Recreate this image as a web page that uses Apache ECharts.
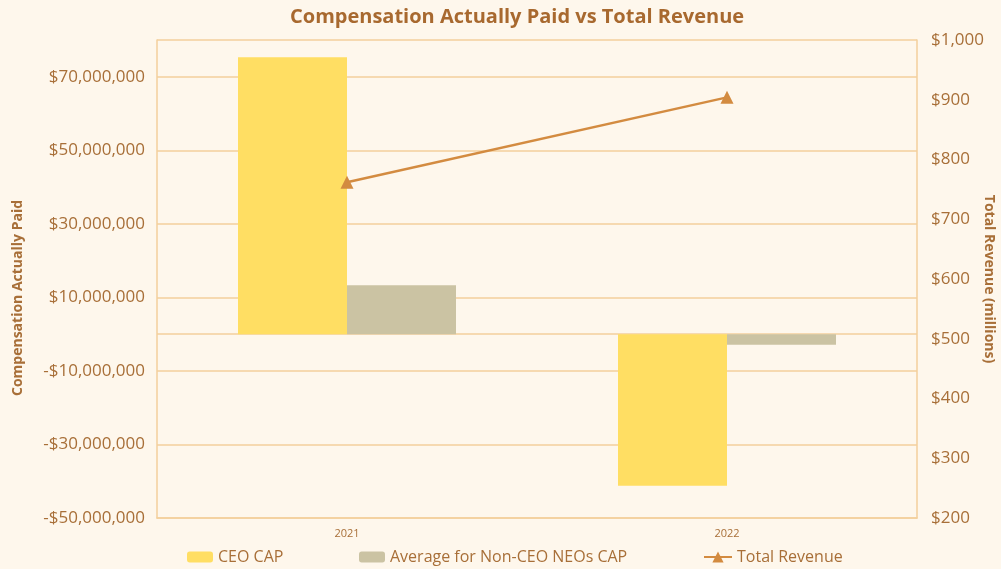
<!DOCTYPE html>
<html>
<head>
<meta charset="utf-8">
<script src="https://cdn.jsdelivr.net/npm/echarts@6/dist/echarts.min.js"></script>
<style>
  html, body { margin: 0; padding: 0; background: #fef7ec; }
  #chart { width: 1001px; height: 569px; }
</style>
</head>
<body>
<div id="chart"></div>
<script>
// data
var years = ['2021', '2022'];
var ceoCap = [75300000, -41200000];
var neoCap = [13300000, -2900000];
var revenue = [762, 904];
// left axis labels shown (others hidden)
var leftLabels = [-50000000, -30000000, -10000000, 10000000, 30000000, 50000000, 70000000];

var TXT = '#a86f38';
var GRID = '#f3cf9c';
var FONT = 'Open Sans';

function money(v) {
  var s = Math.abs(v).toLocaleString('en-US');
  return (v < 0 ? '-$' : '$') + s;
}

// gridlines only at labelled ticks, zero line and borders
var gridColors = [];
for (var v = -50000000; v <= 80000000; v += 10000000) {
  var show = leftLabels.indexOf(v) >= 0 || v === 0 || v === 80000000;
  gridColors.push(show ? GRID : 'rgba(0,0,0,0)');
}

var chart = echarts.init(document.getElementById('chart'));
chart.setOption({
  backgroundColor: '#fef7ec',
  textStyle: { fontFamily: FONT },
  title: {
    text: 'Compensation Actually Paid vs Total Revenue',
    left: 285,
    top: 2,
    textStyle: { color: '#a8692f', fontSize: 20, fontWeight: 'bold', fontFamily: FONT }
  },
  legend: [
    { data: ['CEO CAP'], left: 182, top: 544, itemWidth: 26, itemHeight: 11, itemGap: 4,
      textStyle: { color: TXT, fontSize: 16, fontFamily: FONT } },
    { data: ['Average for Non-CEO NEOs CAP'], left: 354, top: 544, itemWidth: 26, itemHeight: 11,
      textStyle: { color: TXT, fontSize: 16, fontFamily: FONT } },
    { data: ['Total Revenue'], left: 698, top: 544, itemWidth: 28, itemHeight: 14,
      textStyle: { color: TXT, fontSize: 16, fontFamily: FONT } }
  ],
  grid: { left: 157, right: 84, top: 40, bottom: 51, outerBoundsMode: 'none' },
  xAxis: {
    type: 'category',
    data: years,
    axisLine: { show: true, onZero: false, lineStyle: { color: GRID, width: 1.5 } },
    axisTick: { show: false },
    axisLabel: { color: TXT, fontSize: 11, margin: 10 }
  },
  yAxis: [
    {
      type: 'value',
      min: -50000000,
      max: 80000000,
      interval: 10000000,
      name: 'Compensation Actually Paid',
      nameLocation: 'middle',
      nameGap: 132,
      nameMoveOverlap: false,
      nameTextStyle: { color: TXT, fontSize: 14, fontWeight: 'bold', padding: [0, 38, 0, 0] },
      axisLine: { show: true, lineStyle: { color: GRID, width: 1.5 } },
      axisTick: { show: false },
      axisLabel: {
        color: TXT,
        fontSize: 17,
        margin: 12,
        formatter: function (val) {
          return leftLabels.indexOf(val) >= 0 ? money(val) : '';
        }
      },
      splitLine: { show: true, lineStyle: { color: gridColors, width: 1.5 } }
    },
    {
      type: 'value',
      min: 200,
      max: 1000,
      interval: 100,
      name: 'Total Revenue (millions)',
      nameLocation: 'middle',
      nameGap: 65,
      nameRotate: -90,
      nameMoveOverlap: false,
      nameTextStyle: { color: TXT, fontSize: 14, fontWeight: 'bold' },
      axisLine: { show: true, lineStyle: { color: GRID, width: 1.5 } },
      axisTick: { show: false },
      axisLabel: {
        color: TXT,
        fontSize: 17,
        margin: 14,
        formatter: function (val) { return money(val); }
      },
      splitLine: { show: false }
    }
  ],
  series: [
    {
      name: 'CEO CAP',
      type: 'bar',
      data: ceoCap,
      barWidth: 109,
      barGap: '0%',
      itemStyle: { color: '#ffde63' }
    },
    {
      name: 'Average for Non-CEO NEOs CAP',
      type: 'bar',
      data: neoCap,
      barWidth: 109,
      barGap: '0%',
      itemStyle: { color: '#cbc3a3' }
    },
    {
      name: 'Total Revenue',
      type: 'line',
      yAxisIndex: 1,
      data: revenue,
      symbol: 'triangle',
      symbolSize: 13,
      lineStyle: { color: '#d38b40', width: 2.5 },
      itemStyle: { color: '#d38b40' }
    }
  ]
});
</script>
</body>
</html>
